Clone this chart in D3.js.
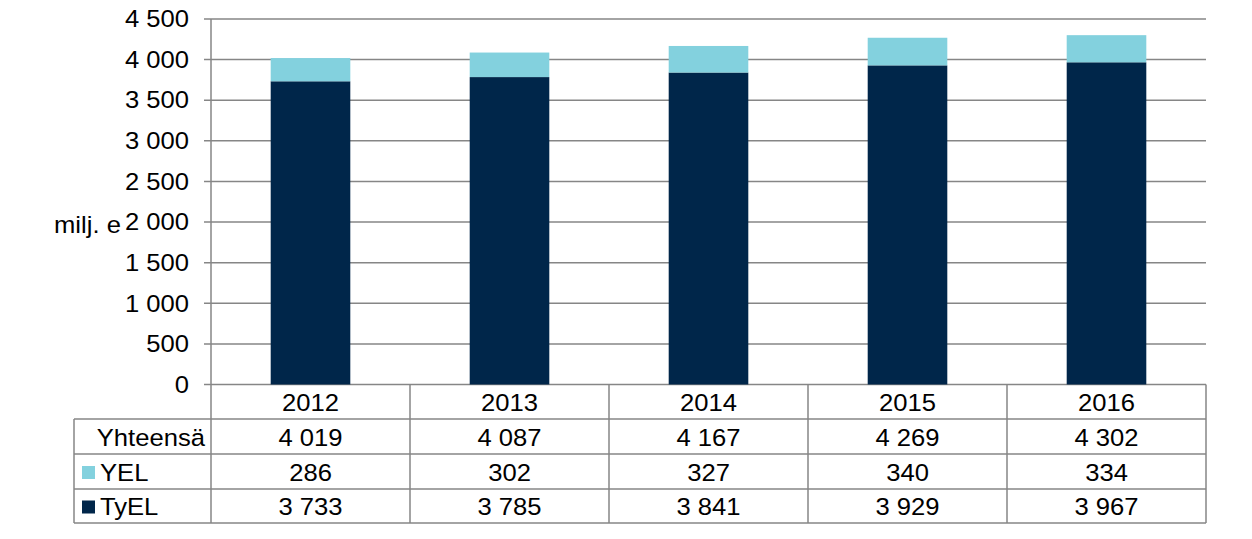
<!DOCTYPE html>
<html><head><meta charset="utf-8">
<script src="https://cdn.jsdelivr.net/npm/d3@7"></script>
<style>html,body{margin:0;padding:0;background:#fff;}svg{display:block;font-family:"Liberation Sans",Arial,sans-serif;}</style>
</head><body>
<svg id="c" width="1252" height="539"></svg>
<script>
const years = ["2012","2013","2014","2015","2016"];
const tyel = [3733,3785,3841,3929,3967];
const yel = [286,302,327,340,334];
const totals = [4019,4087,4167,4269,4302];
const yTicks = [0,500,1000,1500,2000,2500,3000,3500,4000,4500];
const seriesNames = ["TyEL","YEL"];
const colors = {TyEL:"#00264A", YEL:"#83D1DE"};

const svg = d3.select("#c");
const L = 211, R = 1206, T = 19, B = 384.5;
const grid = "#868686";
const FS = 23.5, SX = 1.09;
const fmt = v => d3.format(",")(v).replace(/,/g, "\u00a0");

function txt(g, tx, ty, s, anchor) {
  return g.append("text")
    .attr("transform", `translate(${tx},${ty}) scale(${SX},1)`)
    .attr("dy", "0.35em").attr("text-anchor", anchor || "start")
    .attr("font-size", FS).attr("fill", "#000").text(s);
}

const x = d3.scaleBand().domain(years).range([L, R]).paddingInner(0).paddingOuter(0);
const y = d3.scaleLinear().domain([0, 4500]).range([B, T]);

// gridlines
svg.append("g").selectAll("line").data(yTicks).join("line")
  .attr("x1", L - 7).attr("x2", R).attr("y1", d => y(d)).attr("y2", d => y(d))
  .attr("stroke", grid).attr("stroke-width", 1.5);

// stacked bars
const rows = years.map((yr, i) => ({year: yr, TyEL: tyel[i], YEL: yel[i]}));
const stack = d3.stack().keys(seriesNames)(rows);
const bw = x.bandwidth() * 0.4;
svg.append("g").selectAll("g").data(stack).join("g")
  .attr("fill", d => colors[d.key])
  .selectAll("rect").data(d => d).join("rect")
  .attr("x", d => x(d.data.year) + (x.bandwidth() - bw) / 2)
  .attr("width", bw)
  .attr("y", d => y(d[1]))
  .attr("height", d => y(d[0]) - y(d[1]));

// y axis line
svg.append("line").attr("x1", L).attr("x2", L).attr("y1", T).attr("y2", 523)
  .attr("stroke", grid).attr("stroke-width", 1.5);

// y tick labels
const tg = svg.append("g");
yTicks.forEach(d => txt(tg, 189, y(d), fmt(d), "end"));

txt(svg, 54, 225, "milj. e", "start");

// table
const rowY = [B, 419, 454, 489, 523];
const tbl = svg.append("g");
[419, 454, 489, 523].forEach(yy => {
  tbl.append("line").attr("x1", 74).attr("x2", R).attr("y1", yy).attr("y2", yy)
    .attr("stroke", grid).attr("stroke-width", 1.5);
});
tbl.append("line").attr("x1", 74).attr("x2", 74).attr("y1", 419).attr("y2", 523)
  .attr("stroke", grid).attr("stroke-width", 1.5);
years.forEach(yr => {
  tbl.append("line").attr("x1", x(yr) + x.bandwidth()).attr("x2", x(yr) + x.bandwidth())
    .attr("y1", B).attr("y2", 523).attr("stroke", grid).attr("stroke-width", 1.5);
});
const tableRows = [
  {label: null, vals: years},
  {label: "Yhteensä", vals: totals.map(fmt)},
  {label: "YEL", key: "YEL", vals: yel.map(fmt)},
  {label: "TyEL", key: "TyEL", vals: tyel.map(fmt)}
];
tableRows.forEach((r, i) => {
  const cy = (rowY[i] + rowY[i + 1]) / 2 + 1;
  r.vals.forEach((v, j) => txt(tbl, x(years[j]) + x.bandwidth() / 2, cy, v, "middle"));
  if (r.label) {
    if (r.key) {
      tbl.append("rect").attr("x", 82).attr("y", cy - 6.5).attr("width", 13).attr("height", 13)
        .attr("fill", colors[r.key]);
      txt(tbl, 100, cy, r.label, "start");
    } else {
      txt(tbl, 205, cy, r.label, "end");
    }
  }
});
</script>
</body></html>
